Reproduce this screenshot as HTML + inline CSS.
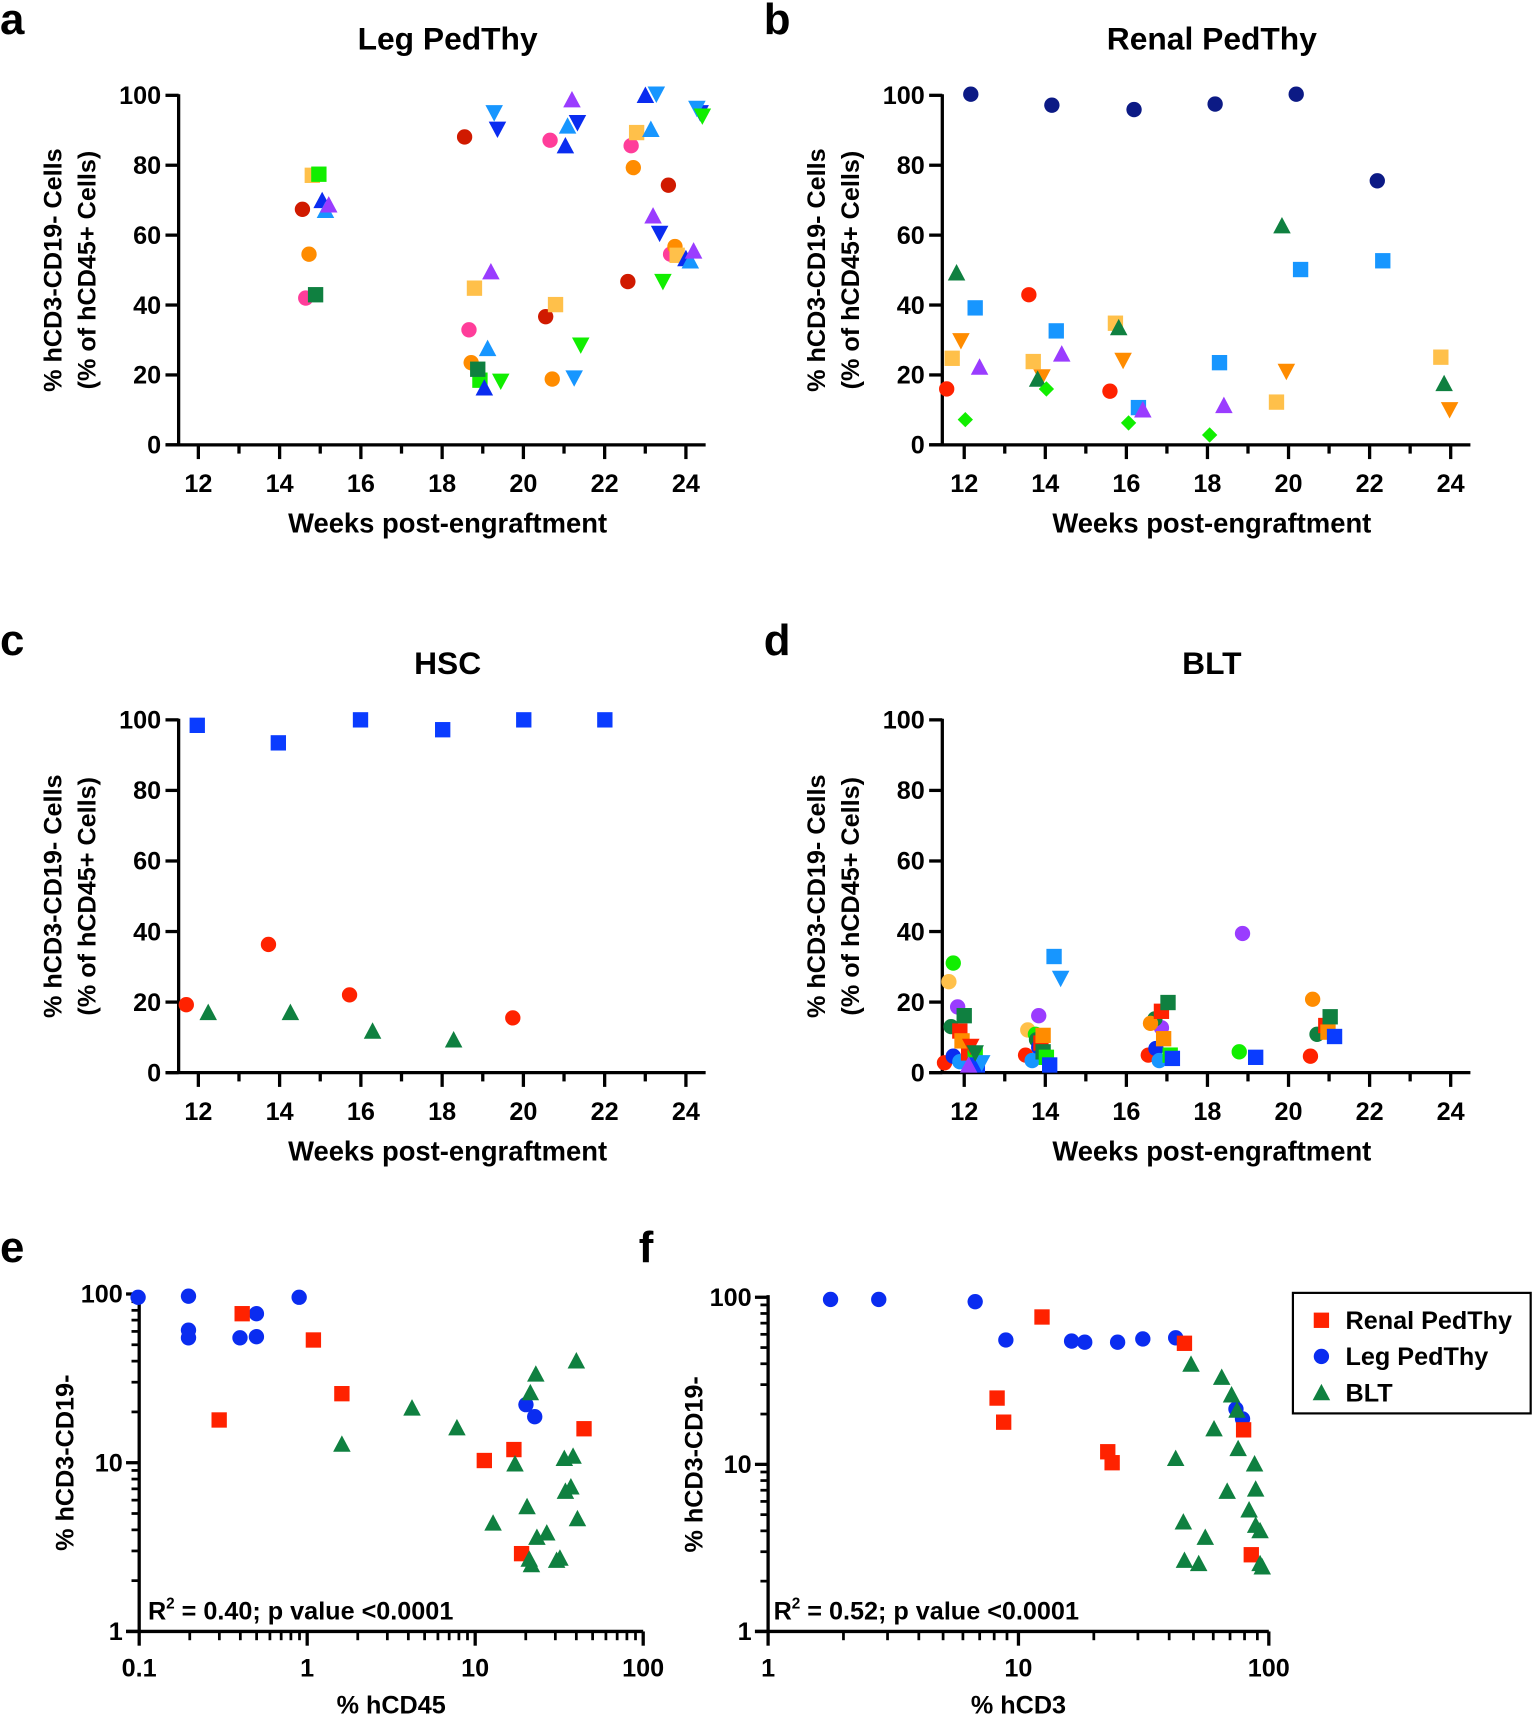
<!DOCTYPE html>
<html><head><meta charset="utf-8"><style>
html,body{margin:0;padding:0;background:#fff}
svg{display:block}
text{font-family:"Liberation Sans",Arial,sans-serif;font-weight:bold;fill:#000}
</style></head><body>
<svg id="s" width="1534" height="1718" viewBox="0 0 1400 1568" xmlns="http://www.w3.org/2000/svg">
<g id="g"></g>
</svg>
<script>
const g=document.getElementById('g');let h='';
const C={red:'#d01a00',rd:'#ff2200',pink:'#ff3d9a',or:'#ff8c00',lo:'#ffc04a',gr:'#11ee00',dg:'#0f8040',bl:'#0a2cf0',lb:'#1796ff',pu:'#9a3cff',nv:'#0c1a85',b2:'#0a3cff'};
function T(x,y,s,sz,anc,extra){h+=`<text x="${x}" y="${y}" font-size="${sz}" text-anchor="${anc||'middle'}" ${extra||''}>${s}</text>`;}
function L(x1,y1,x2,y2,w){h+=`<line x1="${x1}" y1="${y1}" x2="${x2}" y2="${y2}" stroke="#000" stroke-width="${w||3}"/>`;}
function M(sh,c,x,y,r){r=r||7;
 if(sh=='o')h+=`<circle cx="${x}" cy="${y}" r="${r}" fill="${c}"/>`;
 else if(sh=='s')h+=`<rect x="${x-r}" y="${y-r}" width="${2*r}" height="${2*r}" fill="${c}"/>`;
 else if(sh=='u')h+=`<polygon points="${x},${y-r-1} ${x+r+1},${y+r} ${x-r-1},${y+r}" fill="${c}"/>`;
 else if(sh=='d')h+=`<polygon points="${x},${y+r+1} ${x+r+1},${y-r} ${x-r-1},${y-r}" fill="${c}"/>`;
 else if(sh=='m')h+=`<polygon points="${x},${y-r} ${x+r},${y} ${x},${y+r} ${x-r},${y}" fill="${c}"/>`;}
function lin(ax,top,bot,x12,x24,end,title,lab,ty,ly){
 L(ax,top-1,ax,bot+1);L(ax-12,bot,end,bot);
 for(let v=0;v<=100;v+=20){let y=bot-(bot-top)*v/100;L(ax-12,y,ax,y);T(ax-16,y+8,v,23,'end');}
 let d=(x24-x12)/12;
 for(let w=12;w<=24;w++){let x=x12+(w-12)*d;L(x,bot,x,bot+(w%2?8:13));if(w%2==0)T(x,bot+43,w,23);}
 T((ax+end)/2+5,bot+80,'Weeks post-engraftment',25);
 T((ax+end)/2+5,ty,title,29);
 T(ax-163,ly,lab,40,'start');
 let cy=(top+bot)/2;
 T(0,0,'% hCD3-CD19- Cells',23,'middle',`transform="translate(${ax-107},${cy}) rotate(-90)"`);
 T(0,0,'(% of hCD45+ Cells)',23,'middle',`transform="translate(${ax-76},${cy}) rotate(-90)"`);
}
lin(163,87,406,181,626,644,'Leg PedThy','a',45,31);
lin(860,87,406,880,1324,1342,'Renal PedThy','b',45,31);
lin(163,657,979,181,626,644,'HSC','c',615,598);
lin(860,657,979,880,1324,1342,'BLT','d',615,598);
function logax(ax,top,bot,xs,xe,decs,ylab,xlab,lab,lx){
 L(ax,top-2,ax,bot+1);L(ax-12,bot,xe,bot);
 const yl=['1','10','100'];
 for(let k=0;k<=2;k++){let y=bot-(bot-top)*k/2;L(ax-12,y,ax,y);T(ax-15,y+8,yl[k],23,'end');}
 let dy=(bot-top)/2;
 for(let k=0;k<2;k++)for(let m=2;m<=9;m++){let y=bot-dy*(k+Math.log10(m));L(ax-7,y,ax,y,2.5);}
 let n=decs.length-1,dx=(xe-xs)/n;
 for(let k=0;k<=n;k++){let x=xs+dx*k;L(x,bot,x,bot+13);T(x,bot+41,decs[k],23);}
 for(let k=0;k<n;k++)for(let m=2;m<=9;m++){let x=xs+dx*(k+Math.log10(m));L(x,bot,x,bot+8,2.5);}
 T(0,0,ylab,23,'middle',`transform="translate(${ax-60},${(top+bot)/2}) rotate(-90)"`);
 T((xs+xe)/2,bot+75,xlab,23);
 T(lx,1152,lab,40,'start');
}
logax(127,1181,1489,127,587,['0.1','1','10','100'],'% hCD3-CD19-','% hCD45','e',0);
logax(701,1184,1489,701,1158,['1','10','100'],'% hCD3-CD19-','% hCD3','f',583);
h+=`<text x="135" y="1478" font-size="23">R<tspan font-size="14" dy="-10">2</tspan><tspan dy="10"> = 0.40; p value &lt;0.0001</tspan></text>`;
h+=`<text x="706" y="1478" font-size="23">R<tspan font-size="14" dy="-10">2</tspan><tspan dy="10"> = 0.52; p value &lt;0.0001</tspan></text>`;
h+=`<rect x="1180" y="1180" width="217" height="110" fill="none" stroke="#000" stroke-width="2"/>`;
M('s',C.rd,1206,1205,7);T(1228,1213,'Renal PedThy',23,'start');
M('o',C.bl,1206,1238,7);T(1228,1246,'Leg PedThy',23,'start');
M('u',C.dg,1206,1271,7);T(1228,1279,'BLT',23,'start');
const P=[
['o',C.red,[[276,191],[424,125],[498,289],[573,257],[610,169]]],
['o',C.pink,[[279,272],[428,301],[502,128],[576,133],[612,232]]],
['o',C.or,[[282,232],[430,331],[504,346],[578,153],[616,225]]],
['s',C.lo,[[285,160],[433,263],[507,278],[581,121],[618,233]]],
['s',C.gr,[[291,159],[438,347]]],
['s',C.dg,[[288,269],[436,337]]],
['u',C.bl,[[294,183],[442,354],[516,133],[589,87],[626,236]]],
['u',C.lb,[[297,192],[445,318],[518,115],[594,118],[630,238]]],
['u',C.pu,[[300,187],[448,248],[522,91],[596,197],[633,229]]],
['d',C.bl,[[454,118],[527,112],[602,213],[639,103]]],
['d',C.lb,[[451,103],[524,345],[599,86],[636,99]]],
['d',C.gr,[[457,348],[530,315],[605,257],[641,106]]],
['o',C.nv,[[886,86],[960,96],[1035,100],[1109,95],[1183,86],[1257,165]]],
['o',C.rd,[[864,355],[939,269],[1013,357]]],
['s',C.lo,[[869,327],[943,330],[1018,295],[1165,367],[1315,326]]],
['d',C.or,[[877,311],[951,344],[1025,329],[1174,339],[1323,374]]],
['u',C.dg,[[873,249],[947,346],[1021,299],[1170,206],[1318,350]]],
['m',C.gr,[[881,383],[955,355],[1030,386],[1104,397]]],
['s',C.lb,[[890,281],[964,302],[1039,372],[1113,331],[1187,246],[1262,238]]],
['u',C.pu,[[894,335],[969,323],[1043,374],[1117,370]]],
['s',C.b2,[[180,662],[254,678],[329,657],[404,666],[478,657],[552,657]]],
['o',C.rd,[[170,917],[245,862],[319,908],[468,929]]],
['u',C.dg,[[190,924],[265,924],[340,941],[414,949]]],
['o',C.lo,[[866,896],[938,940]]],
['o',C.gr,[[870,879],[1131,960],[945,944]]],
['o',C.pu,[[874,919],[948,927],[1060,938],[1134,852]]],
['o',C.dg,[[868,937],[946,949],[1054,930],[1202,944]]],
['o',C.or,[[1050,934],[1198,912]]],
['o',C.rd,[[862,970],[936,963],[1048,963],[1196,964]]],
['o',C.bl,[[870,964],[948,956],[1055,957]]],
['o',C.lb,[[876,969],[942,968],[1058,968]]],
['s',C.rd,[[876,941],[884,961],[950,952],[1060,923],[1210,936]]],
['s',C.dg,[[880,927],[1066,915],[1214,928],[952,960]]],
['s',C.or,[[878,950],[952,945],[1062,948],[1212,942]]],
['s',C.gr,[[890,963],[955,965],[1068,963]]],
['s',C.b2,[[892,972],[958,972],[1070,966],[1146,965],[1218,946]]],
['s',C.lb,[[962,873]]],
['d',C.lb,[[968,893],[896,970]]],
['d',C.rd,[[886,955]]],['d',C.dg,[[890,961]]],
['u',C.pu,[[884,972]]],
['o',C.bl,[[126,1184],[172,1183],[172,1214],[172,1221],[219,1221],[234,1220],[234,1199],[273,1184],[480,1282],[488,1293]]],
['s',C.rd,[[221,1199],[200,1296],[286,1223],[312,1272],[442,1333],[469,1323],[533,1304],[476,1418]]],
['u',C.dg,[[526,1242],[489,1254],[484,1271],[312,1318],[376,1285],[417,1303],[470,1336],[515,1331],[523,1329],[521,1357],[516,1361],[481,1375],[450,1390],[527,1386],[499,1399],[490,1403],[508,1424],[511,1422],[483,1423],[485,1428]]],
['o',C.bl,[[758,1186],[802,1186],[890,1188],[918,1223],[978,1224],[990,1225],[1020,1225],[1043,1222],[1073,1221],[1128,1286],[1134,1295]]],
['s',C.rd,[[951,1202],[910,1276],[916,1298],[1011,1325],[1015,1335],[1081,1226],[1135,1305],[1142,1419]]],
['u',C.dg,[[1087,1245],[1115,1257],[1124,1273],[1129,1287],[1108,1304],[1073,1331],[1130,1322],[1145,1336],[1146,1359],[1140,1378],[1120,1361],[1080,1389],[1146,1392],[1150,1397],[1100,1403],[1081,1424],[1094,1427],[1150,1427],[1152,1430]]]
];
for(const [s,c,pts] of P)for(const [x,y] of pts)M(s,c,x,y,7);
g.innerHTML=h;
</script>
</body></html>
